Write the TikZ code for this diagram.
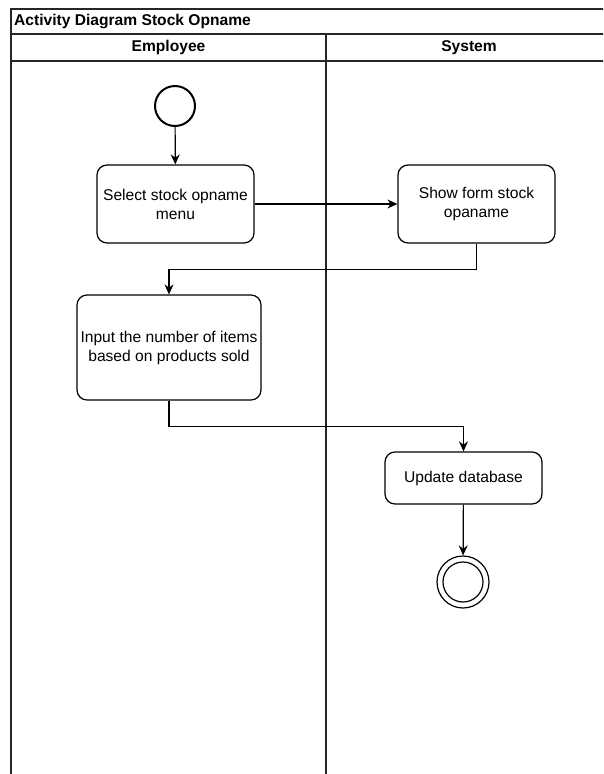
\documentclass[tikz,border=0pt]{standalone}
\usepackage{fontspec}
\setmainfont{Liberation Sans}
\usetikzlibrary{arrows.meta}

\begin{document}
\begin{tikzpicture}[x=1pt,y=-1pt]
                        \tikzset{Action/.style={%
                                shape=rectangle,%
                                draw=black,%
                                rounded corners=10pt,%
                                line width=1.2pt,%
                                minimum width=157pt,%
                                minimum height=78pt,%
                                align=center,%
                                inner sep=2pt,%
                                font=\fontsize{15.6}{19}\selectfont,%
                            },
                            Flow/.style={%
                                -{Stealth[length=10pt,width=9pt]},%
                                line width=1.2pt,%
                            },
                            Lane/.style={%
                                draw=black!85,%
                                line width=1.3pt,%
                            }}

                            % frame and swimlanes
                            \useasboundingbox (0,0) rectangle (603,774);
                            \clip (0,0) rectangle (603,774);
                            \draw[Lane] (11,9) rectangle (612,800);
                            \draw[Lane] (11,34) -- (612,34);
                            \draw[Lane] (11,61) -- (612,61);
                            \draw[Lane] (326,34) -- (326,800);
                            \node[anchor=west, inner sep=0pt, font=\fontsize{15.6}{19}\selectfont\bfseries] (title) at (14,21.5) {Activity Diagram Stock Opname};
                            \node[font=\fontsize{15.6}{19}\selectfont\bfseries] (employee) at (168.5,47.5) {Employee};
                            \node[font=\fontsize{15.6}{19}\selectfont\bfseries] (system) at (469,47.5) {System};

                            % activities
                            \node[circle, draw=black, line width=2pt, minimum size=40pt, inner sep=0pt] (start) at (175,106) {};
                            \node[Action] (select) at (175.5,204) {Select stock opname\\menu};
                            \node[Action] (show) at (476.5,204) {Show form stock\\opaname};
                            \node[Action, minimum width=184pt, minimum height=105pt] (input) at (169,347.5) {Input the number of items\\based on products sold};
                            \node[Action, minimum height=52pt] (update) at (463.5,478) {Update database};
                            \node[circle, draw=black, line width=1.2pt, minimum size=52pt, inner sep=0pt] (final) at (463,582) {};
                            \node[circle, draw=black, line width=1.2pt, minimum size=40pt, inner sep=0pt] (finalin) at (final) {};

                            \path (start) edge[Flow] (select);
                            \path (select) edge[Flow] (show);
                            \draw[Flow] (show.south) -- ++(0,26) -| (input.north);
                            \draw[Flow] (input.south) -- ++(0,26) -| (update.north);
                            \path (update) edge[Flow] (final);
                    \end{tikzpicture}
\end{document}
